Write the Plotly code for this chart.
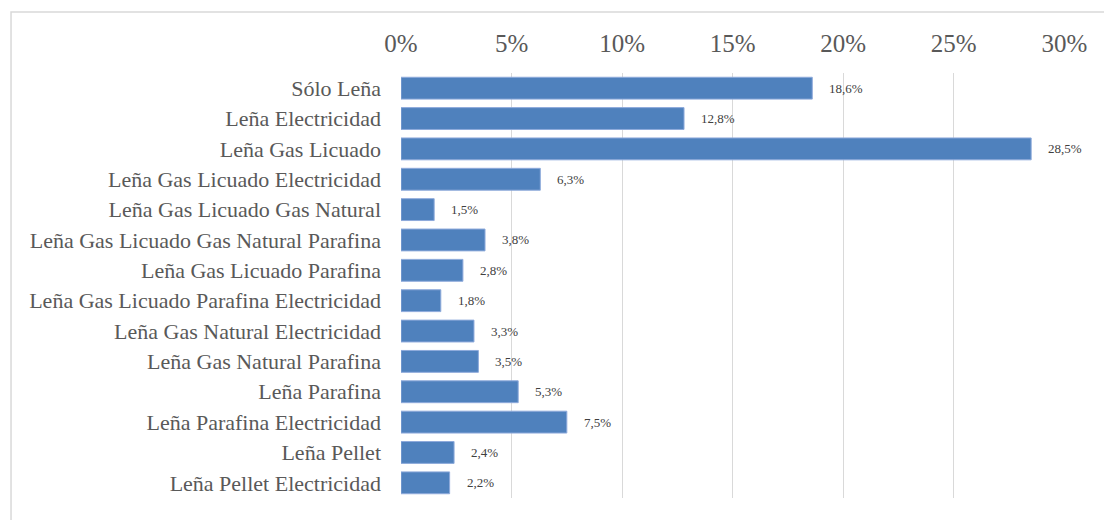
import plotly.graph_objects as go

categories = [
    "Sólo Leña",
    "Leña Electricidad",
    "Leña Gas Licuado",
    "Leña Gas Licuado Electricidad",
    "Leña Gas Licuado Gas Natural",
    "Leña Gas Licuado Gas Natural Parafina",
    "Leña Gas Licuado Parafina",
    "Leña Gas Licuado Parafina Electricidad",
    "Leña Gas Natural Electricidad",
    "Leña Gas Natural Parafina",
    "Leña Parafina",
    "Leña Parafina Electricidad",
    "Leña Pellet",
    "Leña Pellet Electricidad",
]
values = [18.6, 12.8, 28.5, 6.3, 1.5, 3.8, 2.8, 1.8, 3.3, 3.5, 5.3, 7.5, 2.4, 2.2]
tick_vals = [0, 5, 10, 15, 20, 25, 30]
tick_text = ["0%", "5%", "10%", "15%", "20%", "25%", "30%"]

FONT = "Liberation Serif"
BAR = "#4f81bd"
GRID = "#d9d9d9"

fig = go.Figure()
fig.add_trace(go.Bar(
    x=values, y=categories, orientation="h",
    marker=dict(color=BAR, line=dict(color="#8eaadb", width=1)),
    hoverinfo="skip",
))

for c, v in zip(categories, values):
    fig.add_annotation(
        x=v, y=c, xref="x", yref="y",
        text=f"{v:.1f}%".replace(".", ","),
        showarrow=False, xanchor="left", yanchor="middle", xshift=15,
        font=dict(family=FONT, size=13, color="#404040"),
    )

# outer chart border
fig.add_shape(type="rect", xref="paper", yref="paper",
              x0=-0.5873, x1=1.2, y0=-0.2, y1=1.1435,
              line=dict(color=GRID, width=1.5), fillcolor="rgba(0,0,0,0)", layer="below")

fig.update_layout(
    width=1104, height=520,
    margin=dict(l=401, r=39, t=73, b=22),
    paper_bgcolor="white", plot_bgcolor="white",
    bargap=0.28, showlegend=False,
    font=dict(family=FONT, color="#595959"),
    xaxis=dict(
        side="top", range=[0, 30.03], tickvals=tick_vals, ticktext=tick_text,
        showgrid=True, gridcolor=GRID, gridwidth=1.3, zeroline=False,
        showline=False, ticks="", tickfont=dict(family=FONT, size=25, color="#595959"),
        ticklabelstandoff=15, fixedrange=True,
    ),
    yaxis=dict(
        autorange="reversed", showgrid=False, zeroline=False, showline=False,
        ticks="", tickfont=dict(family=FONT, size=22, color="#595959"),
        ticklabelstandoff=19, fixedrange=True,
    ),
)

fig.write_html(
    "out.html",
    config={"displayModeBar": False},
    post_script="document.body.style.margin='0';document.body.style.overflow='hidden';",
)
